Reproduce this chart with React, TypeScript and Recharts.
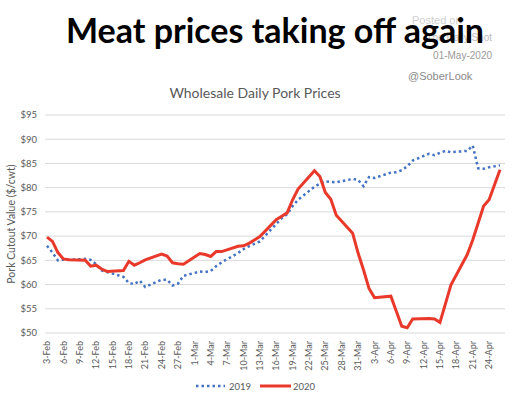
import { LineChart, Line, XAxis, YAxis, CartesianGrid } from 'recharts'

// one label per calendar day, Feb 3 .. Apr 26 (2020)
const dates = [
  '3-Feb', '4-Feb', '5-Feb', '6-Feb', '7-Feb', '8-Feb', '9-Feb',
  '10-Feb', '11-Feb', '12-Feb', '13-Feb', '14-Feb', '15-Feb', '16-Feb',
  '17-Feb', '18-Feb', '19-Feb', '20-Feb', '21-Feb', '22-Feb', '23-Feb',
  '24-Feb', '25-Feb', '26-Feb', '27-Feb', '28-Feb', '29-Feb', '1-Mar',
  '2-Mar', '3-Mar', '4-Mar', '5-Mar', '6-Mar', '7-Mar', '8-Mar',
  '9-Mar', '10-Mar', '11-Mar', '12-Mar', '13-Mar', '14-Mar', '15-Mar',
  '16-Mar', '17-Mar', '18-Mar', '19-Mar', '20-Mar', '21-Mar', '22-Mar',
  '23-Mar', '24-Mar', '25-Mar', '26-Mar', '27-Mar', '28-Mar', '29-Mar',
  '30-Mar', '31-Mar', '1-Apr', '2-Apr', '3-Apr', '4-Apr', '5-Apr',
  '6-Apr', '7-Apr', '8-Apr', '9-Apr', '10-Apr', '11-Apr', '12-Apr',
  '13-Apr', '14-Apr', '15-Apr', '16-Apr', '17-Apr', '18-Apr', '19-Apr',
  '20-Apr', '21-Apr', '22-Apr', '23-Apr', '24-Apr', '25-Apr', '26-Apr',
]

// pork cutout $/cwt, trading days only (weekends null), rows = weeks Mon..Sun
const pork2019 = [
  68.0, 66.6, 65.0, 65.1, 65.1, null, null,
  65.3, 65.1, 64.2, 62.9, 62.6, null, null,
  61.6, 60.3, 60.1, 60.8, 59.5, null, null,
  61.0, 61.0, 59.8, 60.2, 61.8, null, null,
  62.7, 62.6, 62.8, 63.8, 64.6, null, null,
  66.5, 67.3, 67.9, 68.4, 68.9, null, null,
  72.5, 73.7, 74.5, 76.2, 77.5, null, null,
  80.2, 80.8, 81.3, 81.2, 81.1, null, null,
  81.8, 81.6, 80.3, 82.2, 82.0, null, null,
  83.1, 83.2, 83.6, 84.4, 85.6, null, null,
  87.0, 86.7, 87.2, 87.6, 87.3, null, null,
  87.6, 88.7, 84.0, 83.9, 84.2, null, 84.6,
]

const pork2020 = [
  69.8, 68.9, 66.6, 65.3, 65.1, null, null,
  65.0, 63.8, 64.0, 63.2, 62.7, null, null,
  62.9, 64.8, 64.0, 64.5, 65.1, null, null,
  66.3, 65.9, 64.5, 64.3, 64.2, null, null,
  66.4, 66.2, 65.8, 66.8, 66.8, null, null,
  67.9, 68.0, 68.5, 69.2, 69.9, null, null,
  73.4, 74.1, 74.8, 77.5, 79.7, null, null,
  83.5, 82.3, 79.0, 77.6, 74.3, null, null,
  70.6, 66.5, 63.0, 59.2, 57.3, null, null,
  57.6, 54.5, 51.4, 51.1, 52.9, null, null,
  53.0, 52.9, 52.2, 56.0, 59.9, null, null,
  66.2, 69.2, 72.7, 76.2, 77.5, null, 83.7,
]

const yTicks = [50, 55, 60, 65, 70, 75, 80, 85, 90, 95]

const data = dates.map((date, i) => ({ date, y2019: pork2019[i], y2020: pork2020[i] }))

const GREY = '#595959'
const FONT = 'Lato, "Open Sans", sans-serif'

const DateTick = ({ x, y, payload }: any) => (
  <text
    x={x}
    y={y}
    transform={`rotate(-90, ${x}, ${y})`}
    textAnchor="end"
    dy="0.35em"
    fontSize={9}
    fontFamily={FONT}
    fill={GREY}
  >
    {payload.value}
  </text>
)

export default function App() {
  return (
    <div style={{ position: 'fixed', left: 0, top: 0, width: 522, height: 399, background: '#fff' }}>
      <LineChart
        width={522}
        height={399}
        data={data}
        margin={{ top: 115, right: 17, bottom: 26, left: 8 }}
      >
        <CartesianGrid vertical={false} stroke="#d9d9d9" />
        <XAxis
          dataKey="date"
          interval={2}
          height={40}
          axisLine={false}
          tickLine={false}
          tick={<DateTick />}
          tickMargin={2}
          padding={{ left: 2, right: 5 }}
        />
        <YAxis
          width={37}
          domain={[50, 95]}
          ticks={yTicks}
          axisLine={false}
          tickLine={false}
          tick={{ fontSize: 9.5, fill: GREY, fontFamily: FONT }}
          tickFormatter={(v) => `$${v}`}
        />
        <Line
          dataKey="y2019"
          name="2019"
          stroke="#4472C4"
          strokeWidth={2.5}
          strokeDasharray="2.5 3"
          dot={false}
          connectNulls
          isAnimationActive={false}
        />
        <Line
          dataKey="y2020"
          name="2020"
          stroke="#E8392B"
          strokeWidth={3}
          dot={false}
          connectNulls
          isAnimationActive={false}
        />
      </LineChart>

      {/* titles, watermark, axis title and legend */}
      <svg width={522} height={399} style={{ position: 'absolute', left: 0, top: 0, pointerEvents: 'none' }}>
        <g fontFamily='"Liberation Sans", Arial, sans-serif'>
          <text x={412} y={24} fontSize={11} fill="#cfcfcf">Posted on</text>
          <text x={492} y={41} fontSize={10} fill="#bdbdbd" textAnchor="end">The Daily Shot</text>
          <text x={492} y={59} fontSize={10} fill="#9a9a9a" textAnchor="end">01-May-2020</text>
          <text x={408} y={80} fontSize={11} fill="#8a8a8a">@SoberLook</text>
        </g>
        <text x={275} y={43} textAnchor="middle" fontSize={34} fontWeight={700} fontFamily={FONT} fill="#000">
          Meat prices taking off again
        </text>
        <text x={255} y={98} textAnchor="middle" fontSize={14} fontFamily={FONT} fill={GREY}>
          Wholesale Daily Pork Prices
        </text>
        <text
          x={15}
          y={224}
          transform="rotate(-90, 15, 224)"
          textAnchor="middle"
          fontSize={10.5}
          fontFamily={FONT}
          fill={GREY}
        >
          Pork Cutout Value ($/cwt)
        </text>
        <line x1={196} y1={386} x2={225} y2={386} stroke="#4472C4" strokeWidth={2.5} strokeDasharray="2.5 3" />
        <text x={229} y={389.5} fontSize={9.5} fontFamily={FONT} fill={GREY}>2019</text>
        <line x1={260} y1={386} x2={291} y2={386} stroke="#E8392B" strokeWidth={3} />
        <text x={293} y={389.5} fontSize={9.5} fontFamily={FONT} fill={GREY}>2020</text>
      </svg>
    </div>
  )
}
